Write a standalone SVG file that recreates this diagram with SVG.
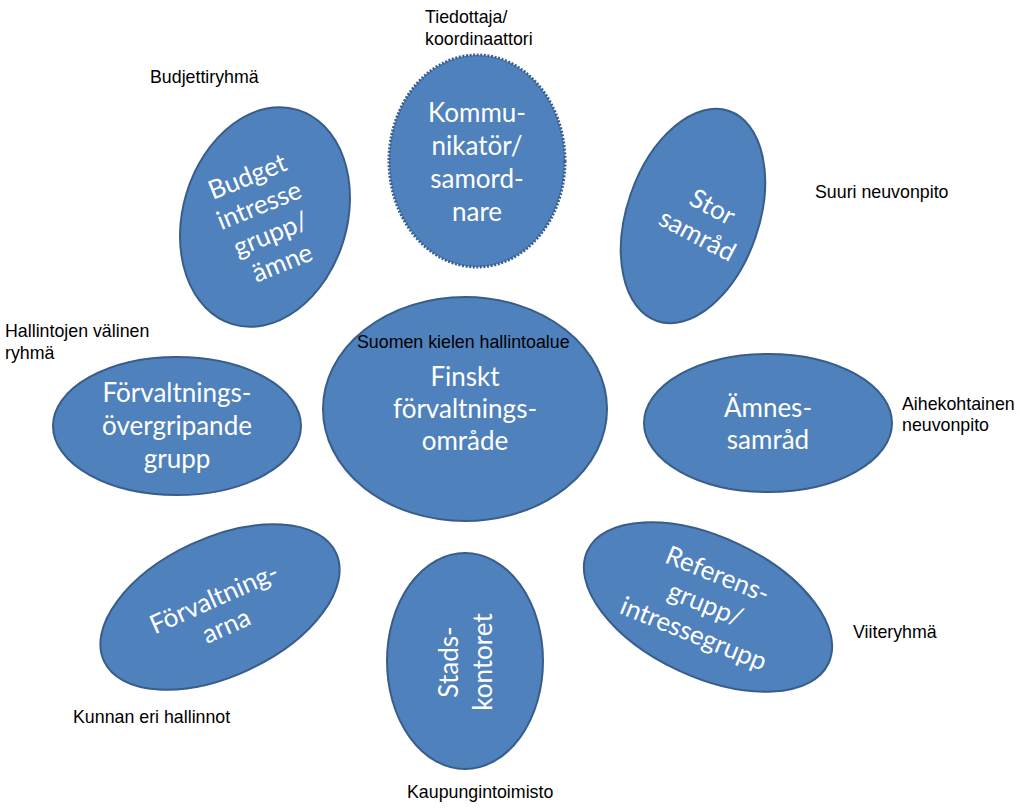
<svg xmlns="http://www.w3.org/2000/svg" width="1022" height="811" viewBox="0 0 1022 811">
<style>
.n{fill:#4F81BD;stroke:#385D8A;stroke-width:2}
.d{fill:#4F81BD;stroke:#3A5F8E;stroke-width:3;stroke-dasharray:2 1.6}
.t{font-family:Lato,"Open Sans",sans-serif;font-size:26px;fill:#FFFFFF;text-anchor:middle}
.l{font-family:"Liberation Sans",Arial,sans-serif;font-size:17.8px;fill:#000000}
</style>
<rect width="1022" height="811" fill="#FFFFFF"/>
<g id="connectors"/>
<g id="kommunikator">
<ellipse class="d" cx="477" cy="161" rx="88" ry="106"/>
<text class="t" x="477"><tspan x="477" y="122">Kommu-</tspan><tspan x="477" y="155">nikatör/</tspan><tspan x="477" y="188">samord-</tspan><tspan x="477" y="221">nare</tspan></text>
</g>
<g id="budget">
<ellipse class="n" cx="0" cy="0" rx="82" ry="112" transform="translate(265,217) rotate(17)"/>
<text class="t" transform="translate(265,220) rotate(-22)"><tspan x="0" y="-38">Budget</tspan><tspan x="0" y="-7">intresse</tspan><tspan x="0" y="24">grupp/</tspan><tspan x="0" y="55">ämne</tspan></text>
</g>
<g id="stor">
<ellipse class="n" cx="0" cy="0" rx="66" ry="111" transform="translate(693,216) rotate(19)"/>
<text class="t" transform="translate(705,221) rotate(28)"><tspan x="0" y="-7">Stor</tspan><tspan x="0" y="25">samråd</tspan></text>
</g>
<g id="finskt">
<ellipse class="n" cx="465" cy="409" rx="142" ry="112"/>
<text class="t"><tspan x="465" y="386">Finskt</tspan><tspan x="465" y="418">förvaltnings-</tspan><tspan x="465" y="450">område</tspan></text>
</g>
<g id="forvaltningsovergripande">
<ellipse class="n" cx="177" cy="426" rx="124" ry="69"/>
<text class="t"><tspan x="177" y="402">Förvaltnings-</tspan><tspan x="177" y="435">övergripande</tspan><tspan x="177" y="468">grupp</tspan></text>
</g>
<g id="amnes">
<ellipse class="n" cx="768" cy="423" rx="124" ry="69"/>
<text class="t"><tspan x="768" y="417">Ämnes-</tspan><tspan x="768" y="449">samråd</tspan></text>
</g>
<g id="forvaltningarna">
<ellipse class="n" cx="0" cy="0" rx="128" ry="69" transform="translate(220,607) rotate(-25)"/>
<text class="t" transform="translate(220,612) rotate(-24)"><tspan x="0" y="-6">Förvaltning-</tspan><tspan x="0" y="24">arna</tspan></text>
</g>
<g id="stads">
<ellipse class="n" cx="465" cy="661" rx="78" ry="108"/>
<text class="t" transform="translate(466,662) rotate(-90)"><tspan x="0" y="-8">Stads-</tspan><tspan x="0" y="26">kontoret</tspan></text>
</g>
<g id="referens">
<ellipse class="n" cx="0" cy="0" rx="133" ry="70" transform="translate(708,607) rotate(25)"/>
<text class="t" transform="translate(706,603) rotate(22)"><tspan x="0" y="-22">Referens-</tspan><tspan x="0" y="10">grupp/</tspan><tspan x="0" y="42">intressegrupp</tspan></text>
</g>
<g id="labels">
<text class="l"><tspan x="425" y="23">Tiedottaja/</tspan><tspan x="425" y="45">koordinaattori</tspan></text>
<text class="l" x="150" y="83">Budjettiryhmä</text>
<text class="l" x="815" y="198">Suuri neuvonpito</text>
<text class="l"><tspan x="5" y="337">Hallintojen välinen</tspan><tspan x="5" y="359">ryhmä</tspan></text>
<text class="l" x="357" y="348">Suomen kielen hallintoalue</text>
<text class="l"><tspan x="902" y="410">Aihekohtainen</tspan><tspan x="902" y="431">neuvonpito</tspan></text>
<text class="l" x="853" y="638">Viiteryhmä</text>
<text class="l" x="73" y="723">Kunnan eri hallinnot</text>
<text class="l" x="407" y="798">Kaupungintoimisto</text>
</g>
</svg>
